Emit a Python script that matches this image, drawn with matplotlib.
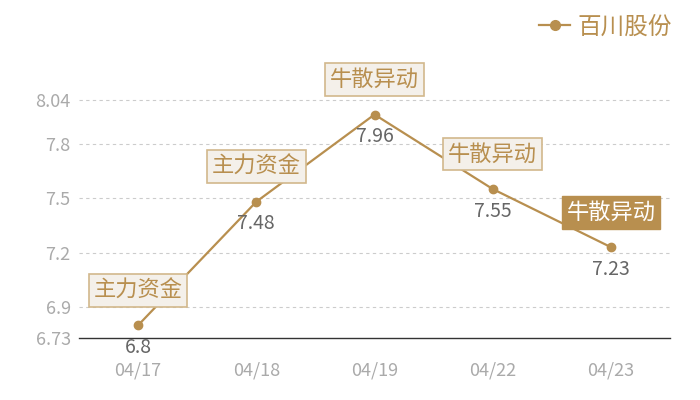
import matplotlib
matplotlib.use('Agg')
import matplotlib.pyplot as plt
from matplotlib.lines import Line2D

plt.rcParams['font.family'] = ['Noto Sans CJK SC', 'DejaVu Sans']

dates = ['04/17', '04/18', '04/19', '04/22', '04/23']
prices = [6.8, 7.48, 7.96, 7.55, 7.23]
tags = ['主力资金', '主力资金', '牛散异动', '牛散异动', '牛散异动']
tag_filled = [False, False, False, False, True]
y_ticks = [6.73, 6.9, 7.2, 7.5, 7.8, 8.04]
series_name = '百川股份'

gold = '#b88f4f'

fig = plt.figure(figsize=(7, 4), dpi=100)
ax = fig.add_axes([79 / 700, 62 / 400, 591 / 700, 238 / 400])

x = list(range(len(dates)))
ax.plot(x, prices, color=gold, linewidth=1.6, marker='o', markersize=6, zorder=3, clip_on=False)

ax.set_xlim(-0.5, len(dates) - 0.5)
ax.set_ylim(y_ticks[0], y_ticks[-1])
ax.set_xticks(x)
ax.set_xticklabels(dates)
ax.set_yticks(y_ticks)
ax.set_yticklabels([f'{t:g}' for t in y_ticks])
ax.tick_params(axis='both', length=0, labelsize=13, labelcolor='#aaaaaa')
ax.tick_params(axis='x', pad=17)
ax.tick_params(axis='y', pad=6)

for s in ['top', 'right', 'left']:
    ax.spines[s].set_visible(False)
ax.spines['bottom'].set_color('#333333')
ax.spines['bottom'].set_linewidth(1)

for t in y_ticks[1:]:
    ax.axhline(t, color='#cccccc', linewidth=0.8, linestyle=(0, (3, 3)), zorder=1, clip_on=False)

for i, (p, tag, filled) in enumerate(zip(prices, tags, tag_filled)):
    ax.annotate(f'{p:g}', (i, p), xytext=(0, -22), textcoords='offset pixels',
                ha='center', va='center', fontsize=14, color='#666666', zorder=4)
    if filled:
        box = dict(boxstyle='square,pad=0.22', facecolor=gold, edgecolor=gold, linewidth=1)
        tc = 'white'
    else:
        box = dict(boxstyle='square,pad=0.22', facecolor='#f4f0ea', edgecolor='#d2b88c', linewidth=1.2)
        tc = gold
    ax.annotate(tag, (i, p), xytext=(0, 35), textcoords='offset pixels',
                ha='center', va='center', fontsize=16, color=tc, bbox=box,
                zorder=5, annotation_clip=False)

handle = Line2D([], [], color=gold, linewidth=1.6, marker='o', markersize=7)
leg = fig.legend([handle], [series_name], loc='upper right', bbox_to_anchor=(0.99, 1.015),
                 frameon=False, fontsize=17, handlelength=1.3, handletextpad=0.3)
for txt in leg.get_texts():
    txt.set_color(gold)

fig.savefig('out.png', dpi=100)
